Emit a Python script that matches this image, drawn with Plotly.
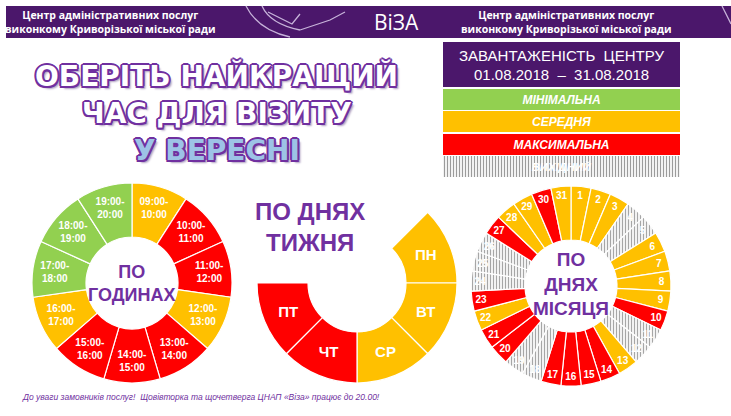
import plotly.graph_objects as go

# ---------------- data ----------------
hour_labels = ["09:00-<br>10:00", "10:00-<br>11:00", "11:00-<br>12:00", "12:00-<br>13:00",
               "13:00-<br>14:00", "14:00-<br>15:00", "15:00-<br>16:00", "16:00-<br>17:00",
               "17:00-<br>18:00", "18:00-<br>19:00", "19:00-<br>20:00"]
hour_load = ["mid", "max", "max", "mid", "max", "max", "max", "mid", "min", "min", "min"]

week_labels = ["ПН", "ВТ", "СР", "ЧТ", "ПТ", ""]
week_load = ["mid", "mid", "mid", "max", "max", "none"]
week_share = [1, 1, 1, 1, 1, 3]   # last = empty weekend gap

month_days = list(range(1, 32))
month_load = ["mid", "mid", "mid", "off", "off", "mid", "mid", "mid", "mid", "max",
              "off", "off", "mid", "max", "max", "max", "max", "off", "off", "max",
              "max", "mid", "max", "off", "off", "off", "max", "mid", "mid", "max", "mid"]

level_keys = ["min", "mid", "max", "off"]
level_names = ["МІНІМАЛЬНА", "СЕРЕДНЯ", "МАКСИМАЛЬНА", "ВИХІДНИЙ"]

# ---------------- style ----------------
COL = {"min": "#92D050", "mid": "#FFC000", "max": "#FF0000", "off": "#F2F2F2",
       "none": "rgba(0,0,0,0)"}
PURPLE = "#4B176B"
TXT = "#7030A0"
W, H = 731, 416


def px(x):
    return x / W


def py(y):
    return 1 - y / H


def pat(keys):
    return dict(shape=["|" if k == "off" else "" for k in keys],
                fgcolor="#A6A6A6", bgcolor=[COL[k] for k in keys],
                size=3, solidity=0.35)


fig = go.Figure()

# hours donut
fig.add_trace(go.Pie(
    labels=hour_labels, values=[1] * len(hour_labels), text=hour_labels,
    textinfo="text", sort=False, direction="clockwise", rotation=0, hole=0.46,
    marker=dict(colors=[COL[k] for k in hour_load], line=dict(color="white", width=1.2)),
    textposition="inside", insidetextorientation="horizontal",
    textfont=dict(family="Liberation Sans", size=10, color="white", weight="bold"),
    domain=dict(x=[px(32), px(232)], y=[py(383), py(183)]),
    showlegend=False, hoverinfo="skip"))

# week donut (partial)
fig.add_trace(go.Pie(
    labels=[l if l else "gap" for l in week_labels], values=week_share, text=week_labels,
    textinfo="text", sort=False, direction="clockwise", rotation=45, hole=0.49,
    marker=dict(colors=[COL[k] for k in week_load],
                line=dict(color=["white"] * 5 + ["rgba(0,0,0,0)"], width=1.2)),
    textposition="inside", insidetextorientation="horizontal",
    textfont=dict(family="Liberation Sans", size=15, color="white", weight="bold"),
    domain=dict(x=[px(257), px(457)], y=[py(383), py(183)]),
    showlegend=False, hoverinfo="skip"))

# month donut
fig.add_trace(go.Pie(
    labels=[str(d) for d in month_days], values=[1] * len(month_days),
    text=[str(d) for d in month_days],
    textinfo="text", sort=False, direction="clockwise", rotation=0, hole=0.46,
    marker=dict(colors=[COL[k] for k in month_load], pattern=pat(month_load),
                line=dict(color="white", width=1.2)),
    textposition="inside", insidetextorientation="horizontal",
    textfont=dict(family="Liberation Sans", size=10, color="white", weight="bold"),
    domain=dict(x=[px(471), px(671)], y=[py(386), py(186)]),
    showlegend=False, hoverinfo="skip"))

# legend rows as bars
fig.add_trace(go.Bar(
    x=[1] * 4, y=list(range(4)), orientation="h", width=0.94,
    marker=dict(color=[COL[k] for k in level_keys], pattern=pat(level_keys), line=dict(width=0)),
    text=level_names, textposition="inside", insidetextanchor="middle",
    textfont=dict(family="Liberation Sans", size=12, color="white", weight="bold", style="italic"),
    xaxis="x2", yaxis="y2", showlegend=False, hoverinfo="skip"))

shapes = [
    dict(type="rect", xref="paper", yref="paper", x0=px(6), x1=px(731), y0=py(38), y1=py(6),
         fillcolor=PURPLE, line=dict(width=0), layer="below"),
    dict(type="rect", xref="paper", yref="paper", x0=px(443), x1=px(680), y0=py(87), y1=py(42),
         fillcolor=PURPLE, line=dict(width=0), layer="below"),
]
# decorative logo strokes in header
for path in [
    f"M {px(246)},{py(6)} Q {px(258)},{py(30)} {px(290)},{py(37)}",
    f"M {px(262)},{py(6)} Q {px(270)},{py(24)} {px(300)},{py(30)}",
    f"M {px(300)},{py(30)} L {px(330)},{py(20)} L {px(345)},{py(12)}",
    f"M {px(268)},{py(12)} L {px(292)},{py(24)} L {px(300)},{py(14)}",
    f"M {px(722)},{py(6)} Q {px(728)},{py(18)} {px(731)},{py(24)}",
]:
    shapes.append(dict(type="path", xref="paper", yref="paper", path=path,
                       line=dict(color="#C7B3DA", width=1.3)))

ann = []


def add_text(x, y, text, size, color, family="Liberation Sans", weight="bold", style="normal",
             shadow="none"):
    ann.append(dict(x=px(x), y=py(y), xref="paper", yref="paper", text=text, showarrow=False,
                    xanchor="center", yanchor="middle",
                    font=dict(family=family, size=size, color=color, weight=weight,
                              style=style, shadow=shadow)))


# header texts
hdr = "Центр адміністративних послуг<br>виконкому Криворізької міської ради"
add_text(110, 22, hdr, 10.5, "white", family="Open Sans")
add_text(566, 22, hdr, 10.5, "white", family="Open Sans")
add_text(396, 22, "ВіЗА", 21, "white", family="Open Sans", weight="normal")

# big title
outline = ", ".join(f"{dx}px {dy}px 0 {TXT}" for dx, dy in
                    [(-1.5, -1.5), (1.5, -1.5), (-1.5, 1.5), (1.5, 1.5),
                     (0, 2), (2, 0), (-2, 0), (0, -2)]) + ", 3px 3px 2px #B0A0C0"
add_text(216, 76, "ОБЕРІТЬ НАЙКРАЩИЙ", 28, "white", family="DejaVu Sans", shadow=outline)
add_text(217, 113, "ЧАС ДЛЯ ВІЗИТУ", 28, "white", family="DejaVu Sans", shadow=outline)
add_text(217, 150, "У ВЕРЕСНІ", 28, "#9DC3E6", family="DejaVu Sans", shadow=outline)

# legend header
add_text(561, 56, "ЗАВАНТАЖЕНІСТЬ  ЦЕНТРУ", 15, "white", weight="normal")
add_text(561, 74, "01.08.2018  –  31.08.2018", 15, "white", weight="normal")

# centre labels
add_text(132, 283, "ПО<br>ГОДИНАХ", 18, TXT)
add_text(310, 227, "ПО ДНЯХ<br>ТИЖНЯ", 24, TXT)
add_text(571, 284, "ПО<br>ДНЯХ<br>МІСЯЦЯ", 19, TXT)

# footer
add_text(201, 397, "До уваги замовників послуг!  Щовівторка та щочетверга ЦНАП «Віза» працює до 20.00!",
         8.5, TXT, weight="normal", style="italic")

fig.update_layout(
    width=W, height=H, margin=dict(l=0, r=0, t=0, b=0),
    paper_bgcolor="white", plot_bgcolor="rgba(0,0,0,0)",
    xaxis2=dict(domain=[px(443), px(680)], range=[0, 1], visible=False, fixedrange=True),
    yaxis2=dict(domain=[py(178), py(88)], range=[3.5, -0.5], visible=False, fixedrange=True,
                anchor="x2"),
    xaxis=dict(visible=False), yaxis=dict(visible=False),
    bargap=0, shapes=shapes, annotations=ann,
)
fig.update_layout(xaxis2_anchor="y2")

fig.write_html("out.html", config={"displayModeBar": False},
               post_script="document.body.style.margin='0px';")
